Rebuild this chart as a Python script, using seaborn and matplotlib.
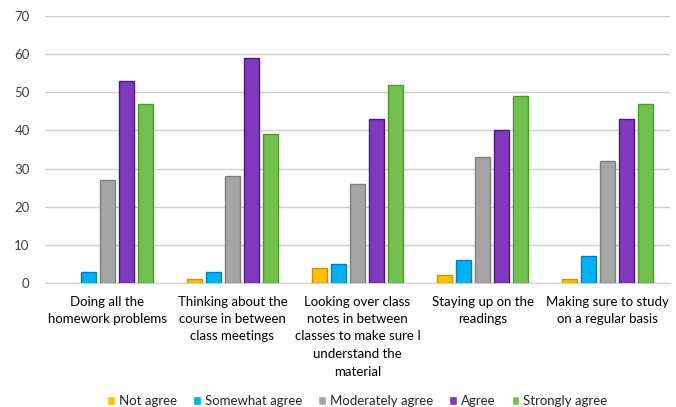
import matplotlib
matplotlib.use('Agg')
import matplotlib.pyplot as plt
import numpy as np
import pandas as pd
import seaborn as sns

categorias = ['Doing all the\nhomework problems',
              'Thinking about the\ncourse in between\nclass meetings',
              'Looking over class\nnotes in between\nclasses to make sure I\nunderstand the\nmaterial',
              'Staying up on the\nreadings',
              'Making sure to study\non a regular basis']
respostas = ['Not agree', 'Somewhat agree', 'Moderately agree',
             'Agree', 'Strongly agree']
not_agree = [0, 1, 4, 2, 1]
somewhat = [3, 3, 5, 6, 7]
moderately = [27, 28, 26, 33, 32]
agree = [53, 59, 43, 40, 43]
strongly = [47, 39, 52, 49, 47]

cores = ['#FFC000', '#00B0F0', '#A5A5A5', '#8038BD', '#72C14F']
bordas = ['#C99700', '#0A7FB5', '#7F7F7F', '#4A1A80', '#4E9A2A']

valores = [not_agree, somewhat, moderately, agree, strongly]
linhas = []
for r, vals in zip(respostas, valores):
    for c, v in zip(categorias, vals):
        linhas.append({'categoria': c, 'resposta': r, 'valor': v})
dados = pd.DataFrame(linhas)

sns.set_style('white')
plt.rcParams['font.family'] = ['Lato', 'DejaVu Sans']

fig = plt.figure(figsize=(6.76, 4.07), dpi=100)
ax = fig.add_axes([45 / 676, 1 - 283 / 407, 625 / 676, 267 / 407])

ax = sns.barplot(data=dados, x='categoria', y='valor', hue='resposta',
                 hue_order=respostas, order=categorias,
                 palette=cores, saturation=1, width=0.76, gap=0.2,
                 errorbar=None, ax=ax, zorder=3)

for cont, borda in zip(ax.containers, bordas):
    for barra in cont:
        barra.set_edgecolor(borda)
        barra.set_linewidth(1.0 if barra.get_height() > 0 else 0)

ax.set_ylim(0, 70)
ax.set_yticks(range(0, 71, 10))
ax.set_xlim(-0.5, 4.5)
ax.yaxis.grid(True, color='#D0D0D0', linewidth=1, zorder=0)
ax.set_axisbelow(True)
for s in ['top', 'right', 'left']:
    ax.spines[s].set_visible(False)
ax.spines['bottom'].set_color('#D0D0D0')
ax.tick_params(axis='both', length=0, labelsize=9.5, colors='#404040')
ax.tick_params(axis='y', pad=11)
ax.tick_params(axis='x', pad=9)
ax.set_xlabel('')
ax.set_ylabel('')
for lbl in ax.get_xticklabels():
    lbl.set_linespacing(1.55)
    lbl.set_color('black')

ax.legend(loc='lower center', bbox_to_anchor=(0.5, -0.51), ncol=5,
          frameon=False, fontsize=9.5, handlelength=0.6, handleheight=0.6,
          handletextpad=0.3, columnspacing=1.2)

plt.savefig('out.png', dpi=100)
